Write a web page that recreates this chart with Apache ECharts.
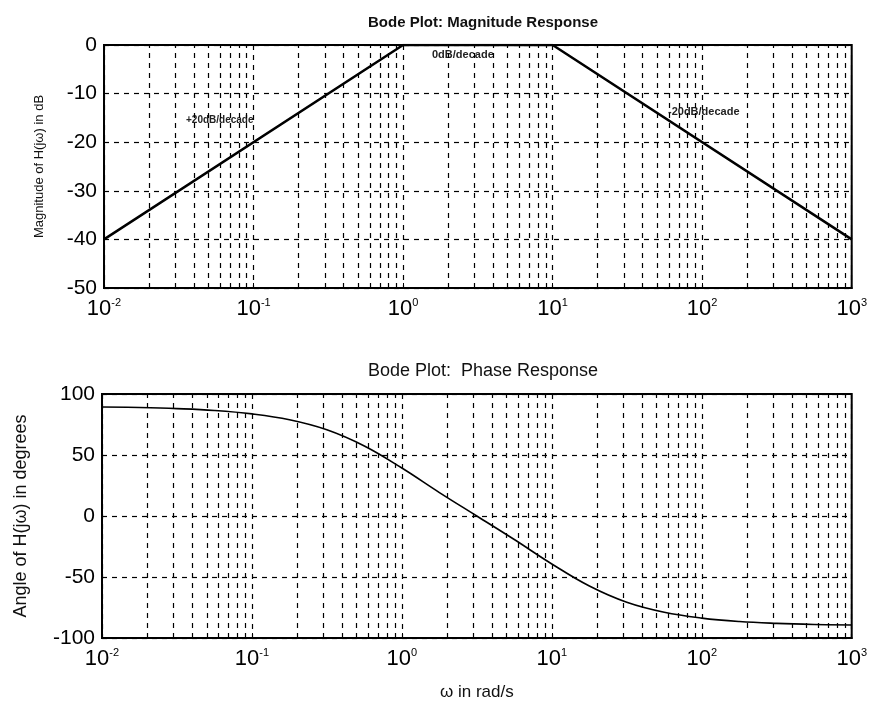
<!DOCTYPE html>
<html>
<head>
<meta charset="utf-8">
<script src="https://cdn.jsdelivr.net/npm/echarts@6/dist/echarts.min.js"></script>
<style>
  html, body { margin: 0; padding: 0; background: #fff; }
  #chart { width: 870px; height: 707px; }
</style>
</head>
<body>
<div id="chart"></div>
<script>
// corner points of the straight-line magnitude plot
const magFreq = [0.01, 1, 10, 1000];
const magDb = [-40, 0, 0, -40];

// phase curve (quarter-decade steps)
const phaseFreq = [0.01, 0.0178, 0.0316, 0.0562, 0.1, 0.178, 0.316, 0.562, 1, 1.78, 3.16, 5.62, 10, 17.8, 31.6, 56.2, 100, 178, 316, 562, 1000];
const phaseDeg = [89.4, 88.9, 88, 86.5, 83.7, 78.9, 70.7, 57.4, 39.3, 19.2, 0, -19.3, -39.3, -57.4, -70.7, -78.9, -83.7, -86.5, -88, -88.9, -89.4];

const decades = [0.01, 0.1, 1, 10, 100];
const font = '"Liberation Sans Narrow", "Liberation Sans", Arial, sans-serif';

// minor (2..9) grid positions of the log axis
const minorLines = [];
decades.forEach((d) => {
    for (let k = 2; k <= 9; k++) {
        minorLines.push({ xAxis: +(d * k).toPrecision(3) });
    }
});

function expLabel(v) {
    const e = Math.round(Math.log10(v));
    return '{b|10}{s|' + e + '}';
}

const xAxisBase = {
    type: 'log',
    logBase: 10,
    min: 0.01,
    max: 1000,
    axisLine: { show: true, onZero: false, lineStyle: { color: '#000', width: 2 } },
    axisTick: { show: true, inside: true, length: 5, lineStyle: { color: '#000' } },
    splitLine: { show: true, lineStyle: { color: '#000', type: [5, 5], width: 1.2 } },
    axisLabel: {
        formatter: expLabel,
        margin: 9,
        rich: {
            b: { fontFamily: font, fontSize: 22, color: '#000' },
            s: { fontFamily: font, fontSize: 11, color: '#000', verticalAlign: 'top', padding: [0, 0, 12, 0] }
        }
    }
};

const chart = echarts.init(document.getElementById('chart'));

chart.setOption({
    backgroundColor: '#fff',
    animation: false,
    title: [
        {
            text: 'Bode Plot: Magnitude Response',
            left: 478, top: 10, textAlign: 'center',
            textStyle: { fontFamily: font, fontSize: 15, fontWeight: 'bold', color: '#111' }
        },
        {
            text: 'Bode Plot:  Phase Response',
            left: 478, top: 357, textAlign: 'center',
            textStyle: { fontFamily: font, fontSize: 18, fontWeight: 'normal', color: '#111' }
        }
    ],
    grid: [
        { left: 104, top: 45, width: 749, height: 243, show: true, borderColor: '#000', borderWidth: 2, backgroundColor: '#fff' },
        { left: 102, top: 394, width: 751, height: 244, show: true, borderColor: '#000', borderWidth: 2, backgroundColor: '#fff' }
    ],
    xAxis: [
        Object.assign({ gridIndex: 0 }, xAxisBase),
        Object.assign({
            gridIndex: 1,
            name: 'ω in rad/s',
            nameLocation: 'middle',
            nameGap: 46,
            nameTextStyle: { fontFamily: font, fontSize: 17, color: '#111' }
        }, xAxisBase)
    ],
    yAxis: [
        {
            gridIndex: 0,
            type: 'value',
            min: -50, max: 0, interval: 10,
            name: 'Magnitude of H(jω) in dB',
            nameLocation: 'middle',
            nameGap: 58,
            nameTextStyle: { fontFamily: font, fontSize: 13, color: '#111' },
            axisLine: { show: true, onZero: false, lineStyle: { color: '#000', width: 2 } },
            axisTick: { show: true, inside: true, length: 5, lineStyle: { color: '#000' } },
            splitLine: { show: true, lineStyle: { color: '#000', type: [5, 5], width: 1.2 } },
            axisLabel: { fontFamily: font, fontSize: 21, color: '#000', margin: 7 }
        },
        {
            gridIndex: 1,
            type: 'value',
            min: -100, max: 100, interval: 50,
            name: 'Angle of H(jω) in degrees',
            nameLocation: 'middle',
            nameGap: 72,
            nameTextStyle: { fontFamily: font, fontSize: 18, color: '#111' },
            axisLine: { show: true, onZero: false, lineStyle: { color: '#000', width: 2 } },
            axisTick: { show: true, inside: true, length: 5, lineStyle: { color: '#000' } },
            splitLine: { show: true, lineStyle: { color: '#000', type: [5, 5], width: 1.2 } },
            axisLabel: { fontFamily: font, fontSize: 21, color: '#000', margin: 7 }
        }
    ],
    graphic: [
        { type: 'text', left: 186, top: 115, style: { text: '+20dB/decade', fontFamily: font, fontSize: 10, fontWeight: 'bold', fill: '#222' } },
        { type: 'text', left: 432, top: 49, style: { text: '0dB/decade', fontFamily: font, fontSize: 11, fontWeight: 'bold', fill: '#222' } },
        { type: 'text', left: 668, top: 106, style: { text: '-20dB/decade', fontFamily: font, fontSize: 11, fontWeight: 'bold', fill: '#222' } }
    ],
    series: [
        {
            type: 'line',
            xAxisIndex: 0, yAxisIndex: 0,
            data: magFreq.map((f, i) => [f, magDb[i]]),
            showSymbol: false,
            lineStyle: { color: '#000', width: 2.5 },
            z: 5,
            markLine: {
                silent: true,
                symbol: 'none',
                label: { show: false },
                lineStyle: { color: '#000', type: [5, 5], width: 1.2 },
                data: minorLines
            }
        },
        {
            type: 'line',
            xAxisIndex: 1, yAxisIndex: 1,
            data: phaseFreq.map((f, i) => [f, phaseDeg[i]]),
            smooth: 0.4,
            showSymbol: false,
            lineStyle: { color: '#000', width: 1.6 },
            z: 5,
            markLine: {
                silent: true,
                symbol: 'none',
                label: { show: false },
                lineStyle: { color: '#000', type: [5, 5], width: 1.2 },
                data: minorLines
            }
        }
    ]
});
</script>
</body>
</html>
